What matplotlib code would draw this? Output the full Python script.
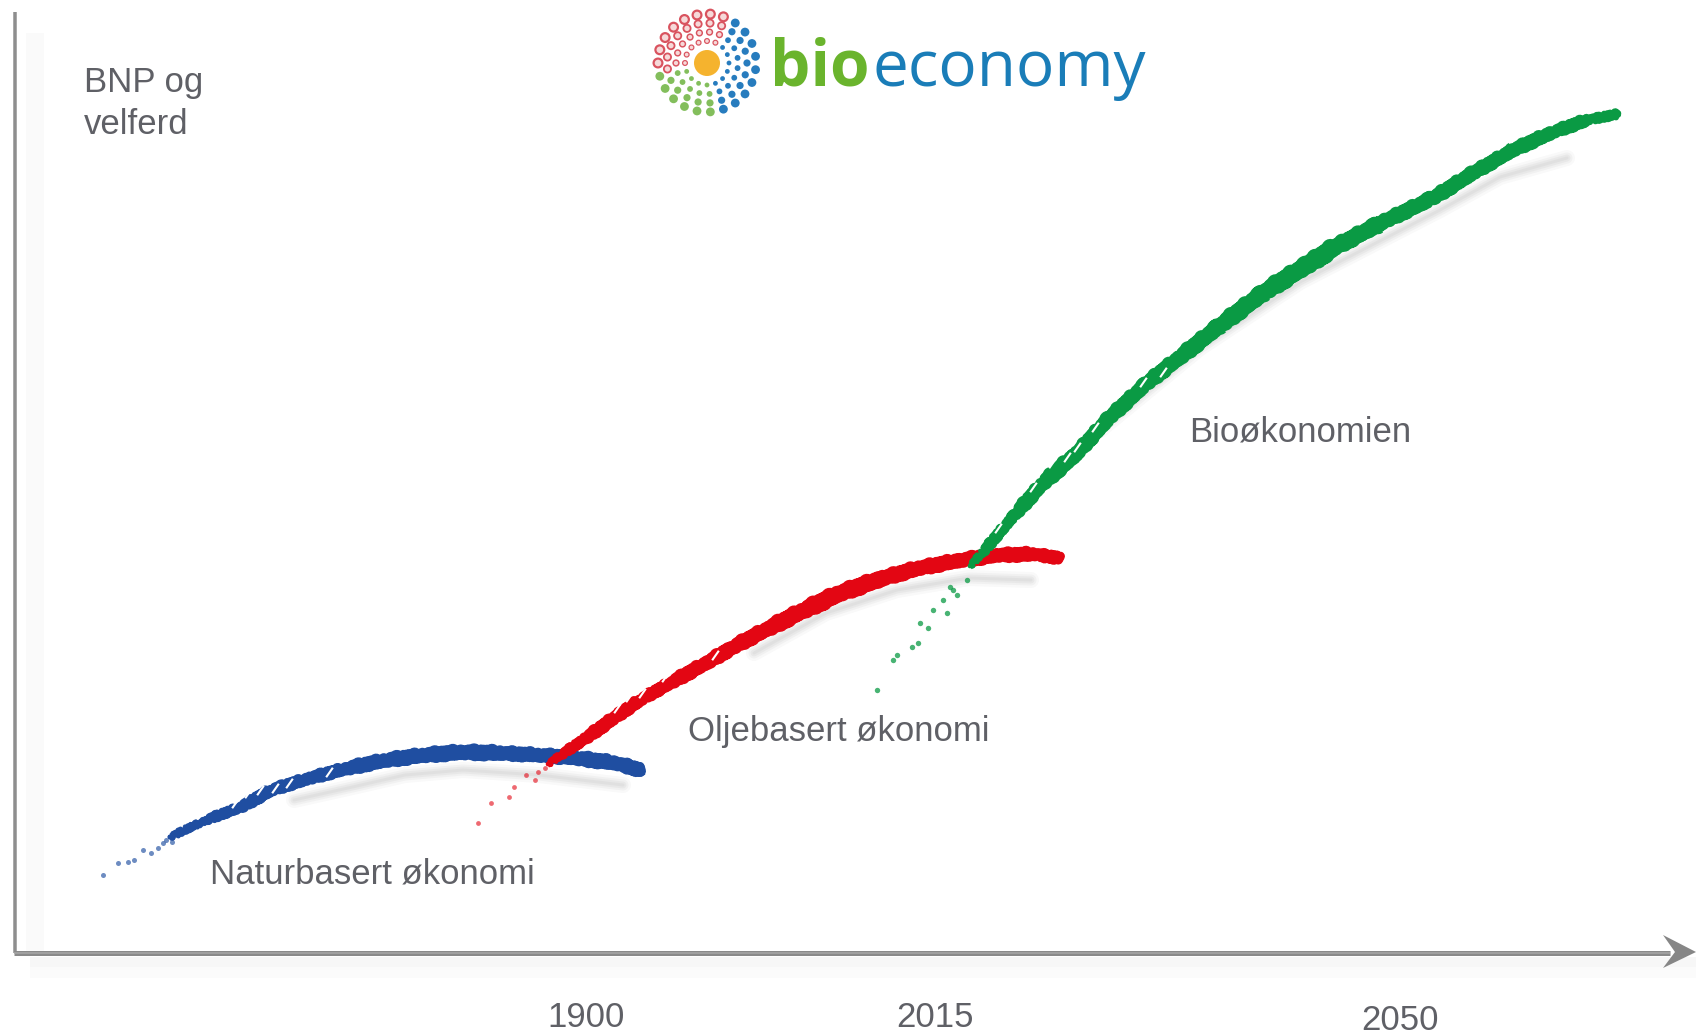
import matplotlib
matplotlib.use("Agg")
import matplotlib.pyplot as plt
import numpy as np
from matplotlib.patches import Polygon, Rectangle, Circle

# curve centre lines and stroke widths (image pixels)
blue_x = [170, 206, 241, 271, 310, 348, 386, 424, 463, 501, 539, 577, 616, 641]
blue_y = [837, 820, 807, 790, 778, 768, 760, 755, 752, 753, 755, 758, 763, 770]
blue_w = [5, 7, 10, 11, 10, 12, 13, 13, 14, 13, 12, 13, 13, 12]

red_x = [548, 561, 586, 611, 640, 672, 708, 733, 769, 804, 840, 883, 919, 961, 997, 1033, 1060]
red_y = [764, 755, 738, 720, 700, 682, 662, 647, 628, 610, 593, 578, 568, 560, 555, 554, 558]
red_w = [4, 7, 10, 12, 10, 11, 13, 12, 14, 15, 16, 14, 13, 13, 13, 12, 10]

green_x = [970, 983, 1017, 1043, 1077, 1110, 1147, 1180, 1223, 1267, 1307, 1333, 1387, 1433, 1473, 1513, 1553, 1587, 1618]
green_y = [566, 552, 512, 483, 453, 417, 383, 357, 323, 290, 265, 248, 220, 198, 173, 150, 132, 120, 114]
green_w = [3, 8, 10, 14, 13, 12, 13, 13, 15, 15, 17, 16, 13, 13, 12, 12, 12, 10, 6]

# grey shadows under the curves
blue_sx = [294, 348, 405, 463, 539, 623]
blue_sy = [800, 788, 775, 770, 775, 785]
red_sx = [754, 826, 897, 969, 1031]
red_sy = [653, 613, 590, 578, 580]
green_sx = [1100, 1200, 1300, 1440, 1500, 1567]
green_sy = [430, 348, 282, 210, 177, 158]

# scattered flecks at the start of each curve
blue_fx = [103, 118, 128, 134, 143, 151, 158, 163, 166, 172, 174, 181, 188, 195]
blue_fy = [875, 863, 862, 860, 850, 853, 848, 843, 840, 842, 835, 832, 828, 825]
red_fx = [478, 491, 509, 514, 526, 535, 538, 545]
red_fy = [823, 803, 797, 787, 775, 780, 772, 768]
green_fx = [877, 893, 897, 912, 918, 928, 920, 933, 947, 943, 950, 953, 957, 967]
green_fy = [690, 660, 655, 647, 643, 628, 623, 610, 613, 600, 587, 590, 595, 580]

# white gaps in the brush strokes
gap_x = [235, 248, 260, 275, 289, 329, 617, 629, 642, 665, 715, 998, 1033, 1052, 1067, 1077, 1095, 1143, 1163]
gap_y = [803, 793, 790, 788, 783, 772, 708, 697, 693, 677, 655, 528, 487, 463, 457, 447, 427, 382, 372]

tick_labels = ["1900", "2015", "2050"]
tick_x = [547, 896, 1361]
tick_y = [1027, 1027, 1030]

BLUE, RED, GREEN = "#1f4ea1", "#e30613", "#0a9a44"
TXT = "#5f6066"
FONT = "Liberation Sans"
PX = 72 / 100

plt.rcParams["lines.scale_dashes"] = False
fig = plt.figure(figsize=(16.96, 10.35), dpi=100, facecolor="white")
ax = fig.add_axes([0, 0, 1, 1])
ax.set_xlim(0, 1696)
ax.set_ylim(1035, 0)
ax.axis("off")

# axis shadows
ax.add_patch(Rectangle((26, 33), 18, 920, fc="#fafafa", ec="none", zorder=1))
ax.add_patch(Rectangle((30, 957), 1666, 21, fc="#fbfbfb", ec="none", zorder=1))
ax.add_patch(Rectangle((30, 957), 1666, 10, fc="#f7f7f7", ec="none", zorder=1))
# axes
ax.plot([14.5, 14.5], [12, 953], color="#8e8e8e", lw=3.5 * PX, solid_capstyle="butt", zorder=2)
ax.plot([14, 1670], [952.5, 952.5], color="#8a8a8a", lw=5 * PX, solid_capstyle="butt", zorder=2)
ax.plot([14, 1670], [952.5, 952.5], color="#a8a8a8", lw=1.5 * PX, solid_capstyle="butt", zorder=2)
ax.add_patch(Polygon([[1663, 935], [1696, 952], [1663, 968], [1675, 952]], closed=True, fc="#868686", ec="none", zorder=3))


def stroke(xs, ys, ws, colour, sx, sy, z):
    xs, ys, ws = np.array(xs, float), np.array(ys, float), np.array(ws, float)
    for lw, alpha in ((16, 0.05), (11, 0.07), (7, 0.08), (3, 0.08)):
        ax.plot(sx, sy, color="#8a8a8a", alpha=alpha, lw=lw * PX,
                solid_capstyle="round", zorder=z - 1)
    # rough brush stroke: body, wobble layer and bristly edge
    for i in range(len(xs) - 1):
        w = (ws[i] + ws[i + 1]) / 2
        seg, = ax.plot(xs[i:i + 2], ys[i:i + 2], color=colour, lw=w * 0.85 * PX,
                       solid_capstyle="round", zorder=z)
        seg.set_sketch_params(scale=2.0, length=8, randomness=6)
        seg2, = ax.plot(xs[i:i + 2], ys[i:i + 2], color=colour, lw=w * 0.75 * PX,
                        solid_capstyle="round", zorder=z)
        seg2.set_sketch_params(scale=3.0, length=5, randomness=3)
        seg3, = ax.plot(xs[i:i + 2], ys[i:i + 2], color=colour, lw=(w + 1.5) * PX,
                        ls=(0, (2, 4, 1, 3, 3, 6, 1, 3)), dash_capstyle="butt", zorder=z)
        seg3.set_sketch_params(scale=1.5, length=6, randomness=4)


stroke(blue_x, blue_y, blue_w, BLUE, blue_sx, blue_sy, 5)
stroke(red_x, red_y, red_w, RED, red_sx, red_sy, 6)
stroke(green_x, green_y, green_w, GREEN, green_sx, green_sy, 7)
ax.scatter(blue_fx, blue_fy, s=13, color=BLUE, alpha=0.65, linewidths=0, zorder=5)
ax.scatter(red_fx, red_fy, s=12, color=RED, alpha=0.6, linewidths=0, zorder=6)
ax.scatter(green_fx, green_fy, s=15, color=GREEN, alpha=0.75, linewidths=0, zorder=7)
ax.scatter(gap_x, gap_y, s=70, marker=(2, 0, -35), color="white", linewidths=1.5, zorder=8)

# labels
txt = dict(color=TXT, family=FONT, fontsize=25, va="baseline", ha="left", zorder=9)
ax.text(84, 92, "BNP og", **txt)
ax.text(84, 134, "velferd", **txt)
ax.text(210, 883, "Naturbasert økonomi", **txt)
ax.text(688, 741, "Oljebasert økonomi", **txt)
ax.text(1189, 442, "Bioøkonomien", **txt)
for lab, x, y in zip(tick_labels, tick_x, tick_y):
    ax.text(x, y, lab, **txt)

# logo: flower of dots
cx, cy = 707, 63
rings = [(22, 2.4), (31, 2.9), (40, 3.6), (49, 4.4)]
counts = [16, 19, 21, 23]
offset = [0.0, 0.5, 0.0, 0.5]
for (r, d), n, o in zip(rings, counts, offset):
    for k in range(n):
        a = 2 * np.pi * (k + o) / n
        deg = np.degrees(a)
        x, y = cx + r * np.cos(a), cy - r * np.sin(a)
        if 62 < deg < 190:
            ax.add_patch(Circle((x, y), d, fc="#f6d9d9", ec="#d9535f", lw=2.0 * PX * d / 4, zorder=4))
        elif 190 <= deg < 285:
            ax.add_patch(Circle((x, y), d, fc="#6db33f", ec="none", alpha=0.85, zorder=4))
        else:
            ax.add_patch(Circle((x, y), d, fc="#1b75bb", ec="none", alpha=0.95, zorder=4))
ax.add_patch(Circle((cx, cy), 13, fc="#f5b32e", ec="none", zorder=5))

ax.text(770, 86, "bio", color="#6ab42d", family="Open Sans", fontweight="bold", fontsize=46,
        va="baseline", ha="left", zorder=9)
ax.text(873, 86, "economy", color="#1a7db8", family="Open Sans", fontsize=46,
        va="baseline", ha="left", zorder=9)

fig.savefig("out.png", dpi=100)
